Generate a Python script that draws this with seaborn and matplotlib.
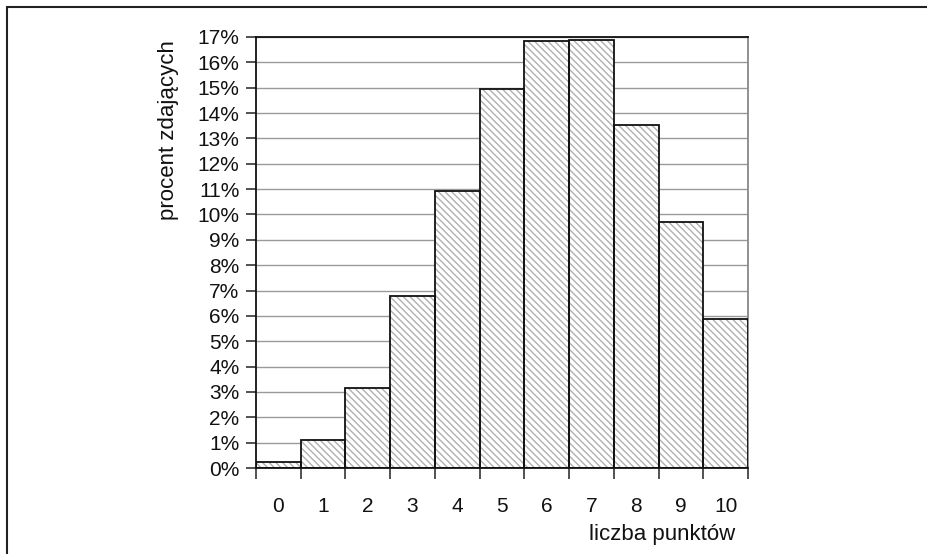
import matplotlib
matplotlib.use("Agg")
import matplotlib.pyplot as plt
import seaborn as sns
import pandas as pd
from matplotlib.ticker import FuncFormatter
from matplotlib.patches import Rectangle

# ---- data ----
points = ["0", "1", "2", "3", "4", "5", "6", "7", "8", "9", "10"]
percent = [0.23, 1.10, 3.17, 6.80, 10.93, 14.95, 16.85, 16.88, 13.52, 9.71, 5.88]
y_ticks = list(range(0, 18))
x_label = "liczba punktów"
y_label = "procent zdających"

sns.set_theme(style="white")
plt.rcParams['font.family'] = ['Liberation Sans', 'DejaVu Sans']
plt.rcParams['hatch.linewidth'] = 1.0

FS = 15
LFS = 16

df = pd.DataFrame({"punkty": points, "procent": percent})

fig = plt.figure(figsize=(9.28, 5.54), dpi=100)
ax = fig.add_axes([256 / 928, 86 / 554, 492 / 928, 431 / 554])

sns.barplot(data=df, x="punkty", y="procent", order=points, width=1.0,
            color="white", saturation=1, ax=ax, zorder=2)

for p in list(ax.patches):
    p.set_facecolor("white")
    p.set_edgecolor("#b0b0b0")
    p.set_hatch("\\\\\\\\\\")
    p.set_linewidth(0)
    ax.add_patch(Rectangle(p.get_xy(), p.get_width(), p.get_height(),
                           fill=False, edgecolor="#111111", linewidth=1.3, zorder=3))

ax.set_xlim(-0.5, len(points) - 0.5)
ax.set_ylim(0, 17)
ax.set_yticks(y_ticks)
ax.yaxis.set_major_formatter(FuncFormatter(lambda v, _: f"{int(round(v))}%"))
ax.yaxis.grid(True, color="#9a9a9a", linewidth=1.0)
ax.xaxis.grid(False)
ax.set_axisbelow(True)

ax.set_xticks(range(len(points)))
ax.set_xticklabels(points)
ax.set_xticks([i - 0.5 for i in range(len(points) + 1)], minor=True)
ax.tick_params(axis="x", which="major", length=0, pad=21, labelsize=FS, colors="#111111")
ax.tick_params(axis="x", which="minor", bottom=True, length=8, width=1.2,
               direction="out", color="#333333")
ax.tick_params(axis="y", which="major", left=True, length=7, width=1.2,
               direction="out", color="#333333", labelsize=FS, pad=5, labelcolor="#111111")

for s in ["left", "bottom", "top"]:
    ax.spines[s].set_color("#111111")
    ax.spines[s].set_linewidth(1.3)
ax.spines["right"].set_color("#888888")
ax.spines["right"].set_linewidth(1.3)

ax.set_xlabel(x_label, fontsize=LFS, color="#111111")
ax.xaxis.set_label_coords(0.974, -0.155)
ax.xaxis.label.set_ha("right")
ax.xaxis.label.set_va("center")

ax.set_ylabel(y_label, fontsize=LFS, color="#111111")
ax.yaxis.set_label_coords(-0.177, 0.993)
ax.yaxis.label.set_ha("right")
ax.yaxis.label.set_va("center")

fig.patches.append(Rectangle((7 / 928, -0.05), 1.0, 1 - 7 / 554 + 0.05,
                             transform=fig.transFigure, fill=False,
                             edgecolor="#222222", linewidth=1.5))

fig.savefig("out.png", dpi=100)
